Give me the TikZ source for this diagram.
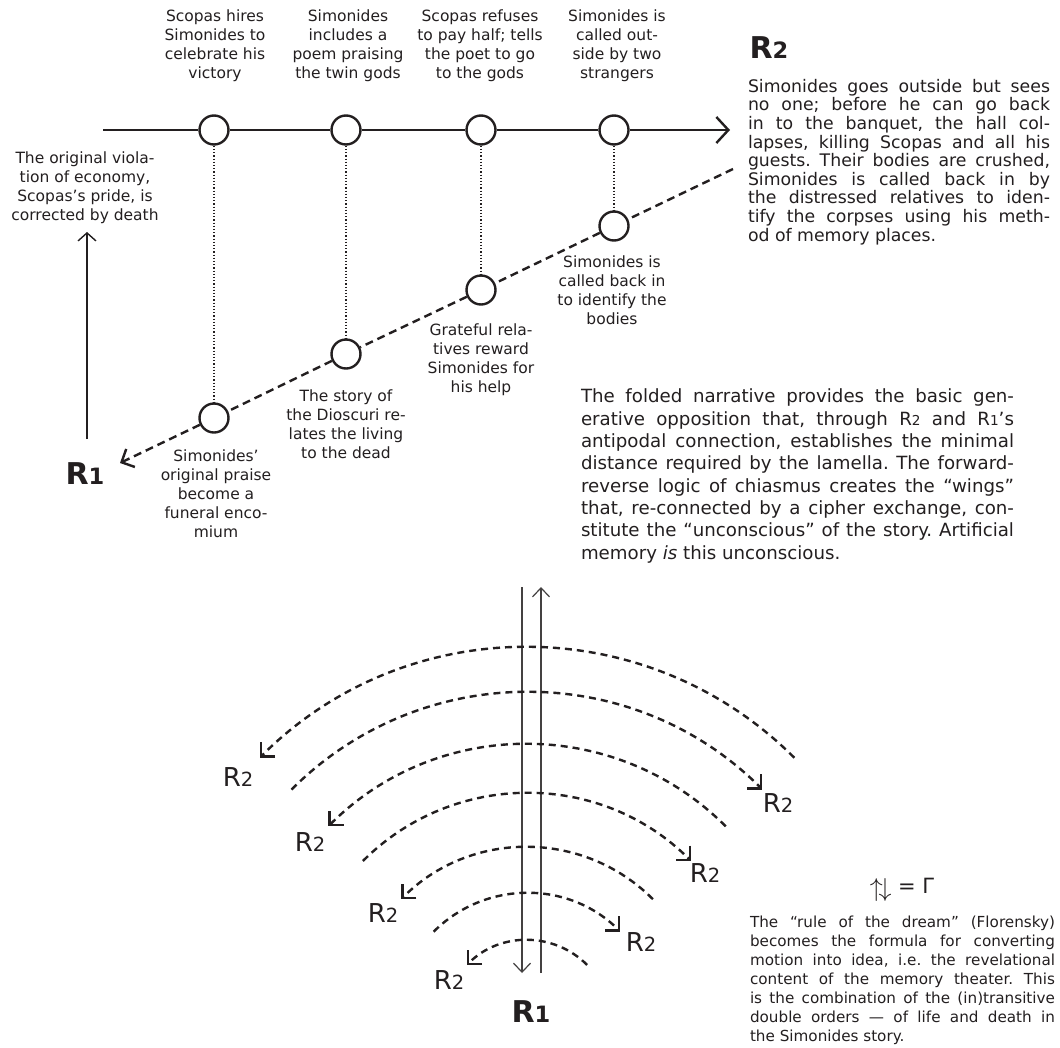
\documentclass[tikz,border=0pt]{standalone}
\usepackage{fontspec}
\setmainfont{DejaVu Sans}
\usetikzlibrary{arrows.meta}
\definecolor{ink}{HTML}{231F20}
\newcommand\Rsub[1]{R\scalebox{0.75}{#1}}
\newcommand\jl[2]{\makebox[#1][s]{#2}}
\frenchspacing
\begin{document}
\begin{tikzpicture}[x=1pt,y=-1pt,
  every node/.style={text=ink},
  lbl/.style={align=center, inner sep=0pt, font=\fontsize{15.5}{19}\selectfont},
  para/.style={align=left, inner sep=0pt},
  ring/.style={circle, draw=ink, line width=2.4pt, minimum size=29pt, inner sep=0pt, fill=white},
  thickline/.style={draw=ink, line width=2.4pt},
  dashline/.style={draw=ink, line width=2.4pt, dash pattern=on 8pt off 5pt},
  dotline/.style={draw=ink, line width=1.2pt, dash pattern=on 1.2pt off 2pt},
  thinarrow/.style={draw=ink, line width=1.4pt, -{Straight Barb[length=8pt,width=18pt]}},
  vline/.style={draw=ink!85, line width=1.2pt, -{Straight Barb[length=9pt,width=17pt]}},
  arcline/.style={draw=ink, line width=2.4pt, dash pattern=on 7pt off 5pt, -{Straight Barb[length=10pt,width=20pt,sharp]}},
  rlab/.style={inner sep=0pt, font=\fontsize{26}{26}\selectfont},
  bigR/.style={inner sep=0pt, font=\fontsize{30}{30}\selectfont\bfseries}
]
\fill[white] (0,0) rectangle (1060,1047);
\useasboundingbox (0,0) rectangle (1060,1047);

% ---------- top diagram ----------
\node[lbl] (l1) at (215,46) {Scopas hires\\Simonides to\\celebrate his\\victory};
\node[lbl] (l2) at (348,46) {Simonides\\includes a\\poem praising\\the twin gods};
\node[lbl] (l3) at (480,46) {Scopas refuses\\to pay half; tells\\the poet to go\\to the gods};
\node[lbl] (l4) at (617,46) {Simonides is\\called out-\\side by two\\strangers};

\coordinate (ls) at (103,130);
\coordinate (le) at (730,130);
\node[ring] (t1) at (214,130) {};
\node[ring] (t2) at (346,130) {};
\node[ring] (t3) at (481,130) {};
\node[ring] (t4) at (614,130) {};
\draw[thickline] (ls) -- (t1) -- (t2) -- (t3) -- (t4);
\draw[thickline, -{Straight Barb[length=12pt,width=26pt]}] (t4) -- (le);

\node[ring] (c1) at (214,418) {};
\node[ring] (c2) at (346,354) {};
\node[ring] (c3) at (481,290) {};
\node[ring] (c4) at (614,226) {};
\coordinate (de) at (733,169);
\coordinate (dtip) at (120,463);
\draw[dashline] (de) -- (c4) -- (c3) -- (c2) -- (c1);
\draw[dashline, -{Straight Barb[length=10pt,width=20pt]}] (c1) -- (dtip);

\draw[dotline] (t1) -- (c1);
\draw[dotline] (t2) -- (c2);
\draw[dotline] (t3) -- (c3);
\draw[dotline] (t4) -- (c4);

\node[lbl] (b1) at (216,494) {Simonides’\\original praise\\become a\\funeral enco-\\mium};
\node[lbl] (b2) at (346,424) {The story of\\the Dioscuri re-\\lates the living\\to the dead};
\node[lbl] (b3) at (481,360) {Grateful rela-\\tives reward\\Simonides for\\his help};
\node[lbl] (b4) at (612,290) {Simonides is\\called back in\\to identify the\\bodies};

\node[lbl] (left) at (85,188) {The original viola-\\tion of economy,\\Scopas’s pride, is\\corrected by death};
\coordinate (la1) at (87,439);
\coordinate (la2) at (87,232);
\draw[thinarrow] (la1) -- (la2);

\node[bigR] (R1a) at (85,474) {\Rsub{1}};
\node[bigR] (R2a) at (769,48) {\Rsub{2}};

\node[para, font=\fontsize{17.3}{18.6}\selectfont] (rp) at (899,162) {%
\jl{302pt}{Simonides goes outside but sees}\\
\jl{302pt}{no one; before he can go back}\\
\jl{302pt}{in to the banquet, the hall col-}\\
\jl{302pt}{lapses, killing Scopas and all his}\\
\jl{302pt}{guests. Their bodies are crushed,}\\
\jl{302pt}{Simonides is called back in by}\\
\jl{302pt}{the distressed relatives to iden-}\\
\jl{302pt}{tify the corpses using his meth-}\\
\makebox[302pt][l]{od of memory places.}};

\node[para, font=\fontsize{18.2}{22.3}\selectfont] (mp) at (797.5,476) {%
\jl{433pt}{The folded narrative provides the basic gen-}\\
\jl{433pt}{erative opposition that, through \Rsub{2} and \Rsub{1}’s}\\
\jl{433pt}{antipodal connection, establishes the minimal}\\
\jl{433pt}{distance required by the lamella. The forward-}\\
\jl{433pt}{reverse logic of chiasmus creates the “wings”}\\
\jl{433pt}{that, re-connected by a cipher exchange, con-}\\
\jl{433pt}{stitute the “unconscious” of the story. Artificial}\\
\makebox[433pt][l]{memory \textit{is} this unconscious.}};

% ---------- bottom diagram ----------
\coordinate (ctr) at (527,1025);
\coordinate (v1a) at (522,587);
\coordinate (v1b) at (522,973);
\coordinate (v2a) at (541,973);
\coordinate (v2b) at (541,587);
\draw[vline] (v1a) -- (v1b);
\draw[vline] (v2a) -- (v2b);

\draw[arcline] ([shift={(45:378pt)}]ctr) arc[start angle=45, end angle=135, radius=378pt];
\draw[arcline] ([shift={(135:333pt)}]ctr) arc[start angle=135, end angle=45, radius=333pt];
\draw[arcline] ([shift={(45:281pt)}]ctr) arc[start angle=45, end angle=135, radius=281pt];
\draw[arcline] ([shift={(135:232pt)}]ctr) arc[start angle=135, end angle=45, radius=232pt];
\draw[arcline] ([shift={(45:178pt)}]ctr) arc[start angle=45, end angle=135, radius=178pt];
\draw[arcline] ([shift={(135:132pt)}]ctr) arc[start angle=135, end angle=45, radius=132pt];
\draw[arcline] ([shift={(45:85pt)}]ctr) arc[start angle=45, end angle=135, radius=85pt];

\node[rlab] (q1) at (238,777) {\Rsub{2}};
\node[rlab] (q2) at (778,803) {\Rsub{2}};
\node[rlab] (q3) at (310,842) {\Rsub{2}};
\node[rlab] (q4) at (705,873) {\Rsub{2}};
\node[rlab] (q5) at (383,913) {\Rsub{2}};
\node[rlab] (q6) at (641,942) {\Rsub{2}};
\node[rlab] (q7) at (449,980) {\Rsub{2}};

\node[bigR] (R1b) at (531,1012) {\Rsub{1}};

\node[inner sep=0pt, font=\fontsize{21}{21}\selectfont] (form) at (902,890) {\raisebox{-0.12em}{\scalebox{1.25}{$\uparrow\mkern-3mu\downarrow$}} = Γ};

\node[para, font=\fontsize{15.2}{19}\selectfont] (bp) at (902.5,980) {%
\jl{305pt}{The “rule of the dream” (Florensky)}\\
\jl{305pt}{becomes the formula for converting}\\
\jl{305pt}{motion into idea, i.e. the revelational}\\
\jl{305pt}{content of the memory theater. This}\\
\jl{305pt}{is the combination of the (in)transitive}\\
\jl{305pt}{double orders — of life and death in}\\
\makebox[305pt][l]{the Simonides story.}};
\end{tikzpicture}
\end{document}
